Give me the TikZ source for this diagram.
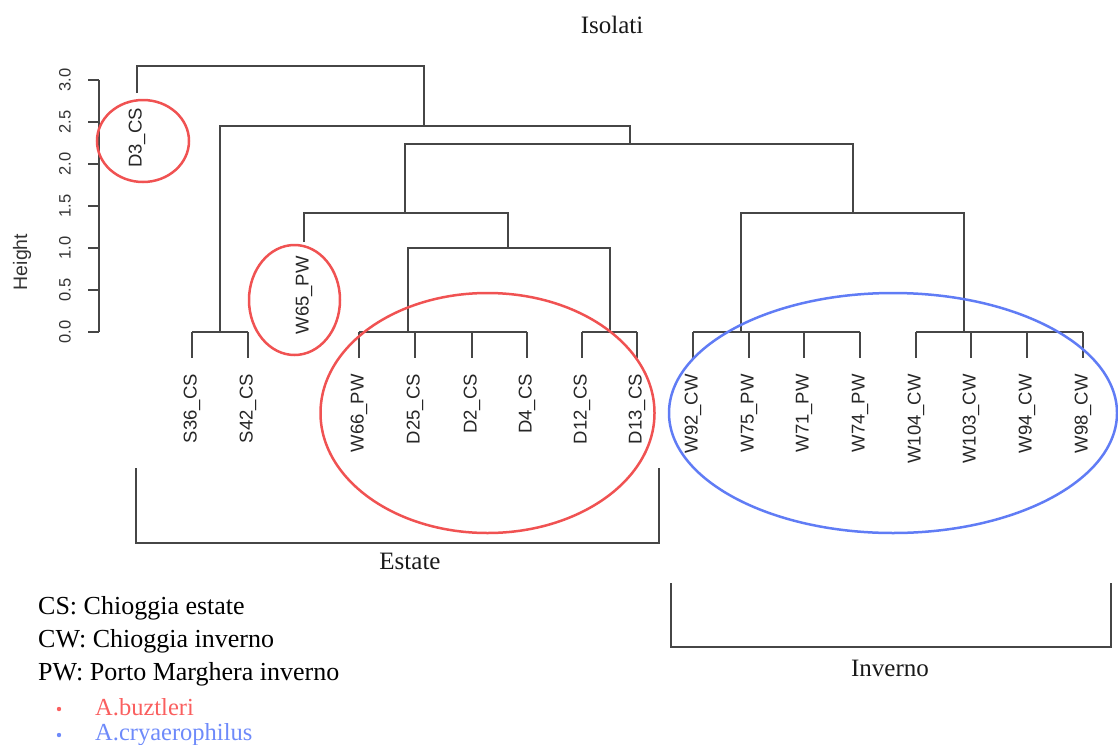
\documentclass[tikz,border=0pt]{standalone}
\usepackage{fontspec}
\setmainfont{Liberation Serif}
\newfontfamily\lsans{Liberation Sans}
\definecolor{redc}{RGB}{240,82,82}
\definecolor{bluec}{RGB}{96,124,245}
\definecolor{redt}{RGB}{250,95,95}
\definecolor{bluet}{RGB}{110,138,250}
\definecolor{dgray}{RGB}{70,70,70}
\begin{document}
\begin{tikzpicture}[x=1pt,y=-1pt,
  dend/.style={draw=dgray, line width=1.3pt},
  bracket/.style={draw=dgray, line width=2pt},
  leaf/.style={font=\lsans\fontsize{18.5}{18.5}\selectfont, rotate=90, anchor=east, inner sep=0pt, text=black!85},
  tick/.style={font=\lsans\fontsize{16.5}{16.5}\selectfont, rotate=90, inner sep=0pt, text=black!80},
  serif/.style={font=\fontsize{25}{25}\selectfont, inner sep=0pt, text=black!90},
  legend/.style={font=\fontsize{26}{26}\selectfont, inner sep=0pt, anchor=base west},
  species/.style={legend, font=\fontsize{24.5}{24.5}\selectfont},
  ring/.style={line width=2.5pt}]
\useasboundingbox (0,0) rectangle (1118,744);

% title
\node[serif] (title) at (612,25) {Isolati};

% axis
\draw[dend] (99,80) -- (99,332);
\foreach \v/\yy in {0.0/332,0.5/290,1.0/248,1.5/206,2.0/164,2.5/122,3.0/80}{
  \draw[dend] (88,\yy) -- (99,\yy);
  \node[tick] (t\v) at (65,\yy) {\v};
}
\node[tick, font=\lsans\fontsize{19.5}{19.5}\selectfont] (height) at (22,262) {Height};

% leaves
\foreach \x/\n [count=\i] in {192/S36\_CS,248/S42\_CS,359/W66\_PW,415/D25\_CS,472/D2\_CS,527/D4\_CS,582/D12\_CS,637/D13\_CS,693/W92\_CW,749/W75\_PW,804/W71\_PW,860/W74\_PW,916/W104\_CW,971/W103\_CW,1027/W94\_CW,1083/W98\_CW}{
  \coordinate (L\i) at (\x,358);
  \draw[dend] (\x,332) -- (L\i);
  \node[leaf] (leaf\i) at (\x,374) {\n};
}
% zero-height groups
\draw[dend] (192,332) -- (248,332);
\draw[dend] (359,332) -- (527,332);
\draw[dend] (582,332) -- (637,332);
\draw[dend] (693,332) -- (860,332);
\draw[dend] (916,332) -- (1083,332);

% singleton leaves
\node[leaf] (d3) at (137,108) {D3\_CS};
\node[leaf] (w65) at (304,256) {W65\_PW};

% merges
\coordinate (mA) at (220,332);
\coordinate (mB) at (408,332);
\coordinate (mC) at (610,332);
\coordinate (mD) at (741,332);
\coordinate (mE) at (964,332);
\draw[dend] (mB) -- (408,248) -- (610,248) -- (mC);
\draw[dend] (304,242) -- (304,213) -- (508,213) -- (508,248);
\draw[dend] (mD) -- (741,213) -- (964,213) -- (mE);
\draw[dend] (405,213) -- (405,144) -- (853,144) -- (853,213);
\draw[dend] (mA) -- (220,126) -- (630,126) -- (630,144);
\draw[dend] (137,93) -- (137,66) -- (424,66) -- (424,126);

% rings
\draw[redc, ring] (143,141) ellipse [x radius=46, y radius=41];
\draw[redc, ring] (294.5,300) ellipse [x radius=45.5, y radius=55];
\draw[redc, ring] (487.5,413) ellipse [x radius=167, y radius=120];
\draw[bluec, ring] (893,413) ellipse [x radius=224, y radius=120];

% brackets
\coordinate (e1) at (136,468);
\coordinate (e2) at (659,468);
\draw[bracket] (e1) -- (136,543) -- (659,543) -- (e2);
\node[serif] (estate) at (410,561) {Estate};
\coordinate (i1) at (671,583);
\coordinate (i2) at (1111,583);
\draw[bracket] (i1) -- (671,647) -- (1111,647) -- (i2);
\node[serif] (inverno) at (890,668) {Inverno};

% legend
\node[legend] (lcs) at (38,614) {CS: Chioggia estate};
\node[legend] (lcw) at (38,647) {CW: Chioggia inverno};
\node[legend] (lpw) at (38,680) {PW: Porto Marghera inverno};
\fill[redt] (59,709) circle [radius=2.2];
\fill[bluet] (59,735) circle [radius=2.2];
\node[species, text=redt] (lab) at (95,715) {A.buztleri};
\node[species, text=bluet] (lac) at (95,740) {A.cryaerophilus};
\end{tikzpicture}
\end{document}
